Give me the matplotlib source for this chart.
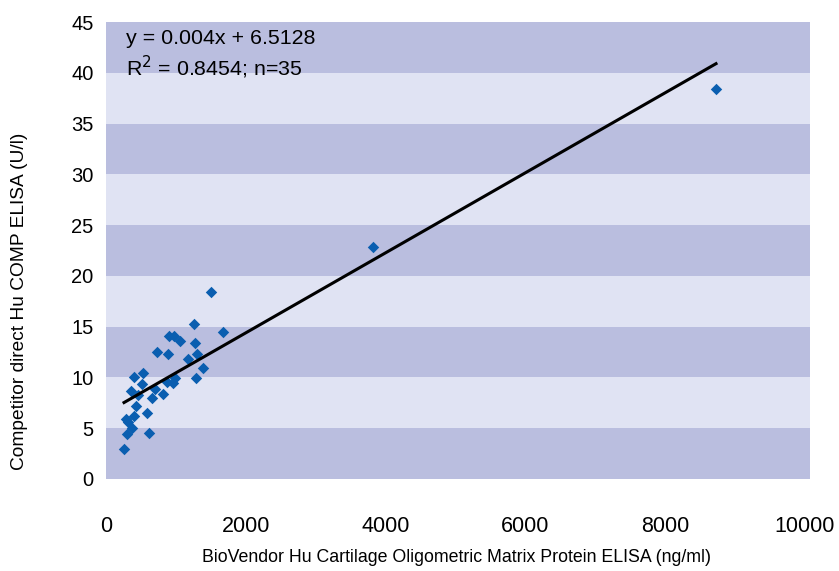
import numpy as np
import matplotlib.pyplot as plt

# BioVendor COMP ELISA (ng/ml) vs competitor direct Hu COMP ELISA (U/l)
biovendor = [1502, 1259, 1679, 901, 973, 1059, 1273, 725, 882, 1297,
             1178, 1392, 405, 534, 1288, 510, 358, 701, 868, 987,
             954, 654, 820, 462, 429, 591, 401, 286, 310, 377,
             296, 615, 258, 3820, 8727]
competitor = [18.4, 15.3, 14.45, 14.05, 14.05, 13.6, 13.4, 12.5, 12.3, 12.3,
              11.8, 10.95, 10.05, 10.45, 9.95, 9.33, 8.67, 8.84, 9.56, 9.99,
              9.5, 7.93, 8.35, 8.25, 7.17, 6.45, 6.2, 5.9, 5.6, 5.04,
              4.48, 4.55, 2.95, 22.8, 38.4]

trend_slope = 0.00394
trend_intercept = 6.5128
eq_text = "y = 0.004x + 6.5128"
r2_text = "R$^2$ = 0.8454; n=35"

band_dark = "#babedf"
band_light = "#e0e3f3"
point_color = "#0a5eb0"

W, H = 839, 571
fig = plt.figure(figsize=(W / 100, H / 100), dpi=100)
ax = fig.add_axes([106 / W, 1 - 479 / H, 704 / W, 457 / H])

# alternating horizontal bands, 5 units each
for i, lo in enumerate(range(0, 45, 5)):
    ax.axhspan(lo, lo + 5, color=band_dark if i % 2 == 0 else band_light, lw=0, zorder=0)

ax.scatter(biovendor, competitor, marker="D", s=34, color=point_color, lw=0, zorder=3)

xs = np.array([min(biovendor), max(biovendor)])
ax.plot(xs, trend_slope * xs + trend_intercept, color="black", lw=2.2, zorder=4)

ax.set_xlim(0, 10000 * 704 / 699)
ax.set_ylim(0, 45)
ax.set_xticks(range(0, 10001, 2000))
ax.set_yticks(range(0, 46, 5))
ax.tick_params(length=0)
ax.tick_params(axis="y", pad=9, labelsize=14.5)
ax.tick_params(axis="x", pad=27, labelsize=15.5)
for lab in ax.get_yticklabels() + ax.get_xticklabels():
    lab.set_family("Liberation Sans")
for s in ax.spines.values():
    s.set_visible(False)

fig.text(456 / W, 1 - 557 / H, "BioVendor Hu Cartilage Oligometric Matrix Protein ELISA (ng/ml)",
         family="Liberation Sans", fontsize=12.8, ha="center", va="center")
fig.text(20 / W, 1 - 301 / H, "Competitor direct Hu COMP ELISA (U/l)", family="Liberation Sans",
         fontsize=13.8, rotation=90, ha="center", va="center")

ax.text(0.028, 0.984, eq_text, transform=ax.transAxes, family="Liberation Sans",
        fontsize=15.4, va="top")
ax.text(0.028, 0.93, r2_text, transform=ax.transAxes, family="Liberation Sans",
        fontsize=15.4, va="top")

fig.savefig("out.png", dpi=100)
